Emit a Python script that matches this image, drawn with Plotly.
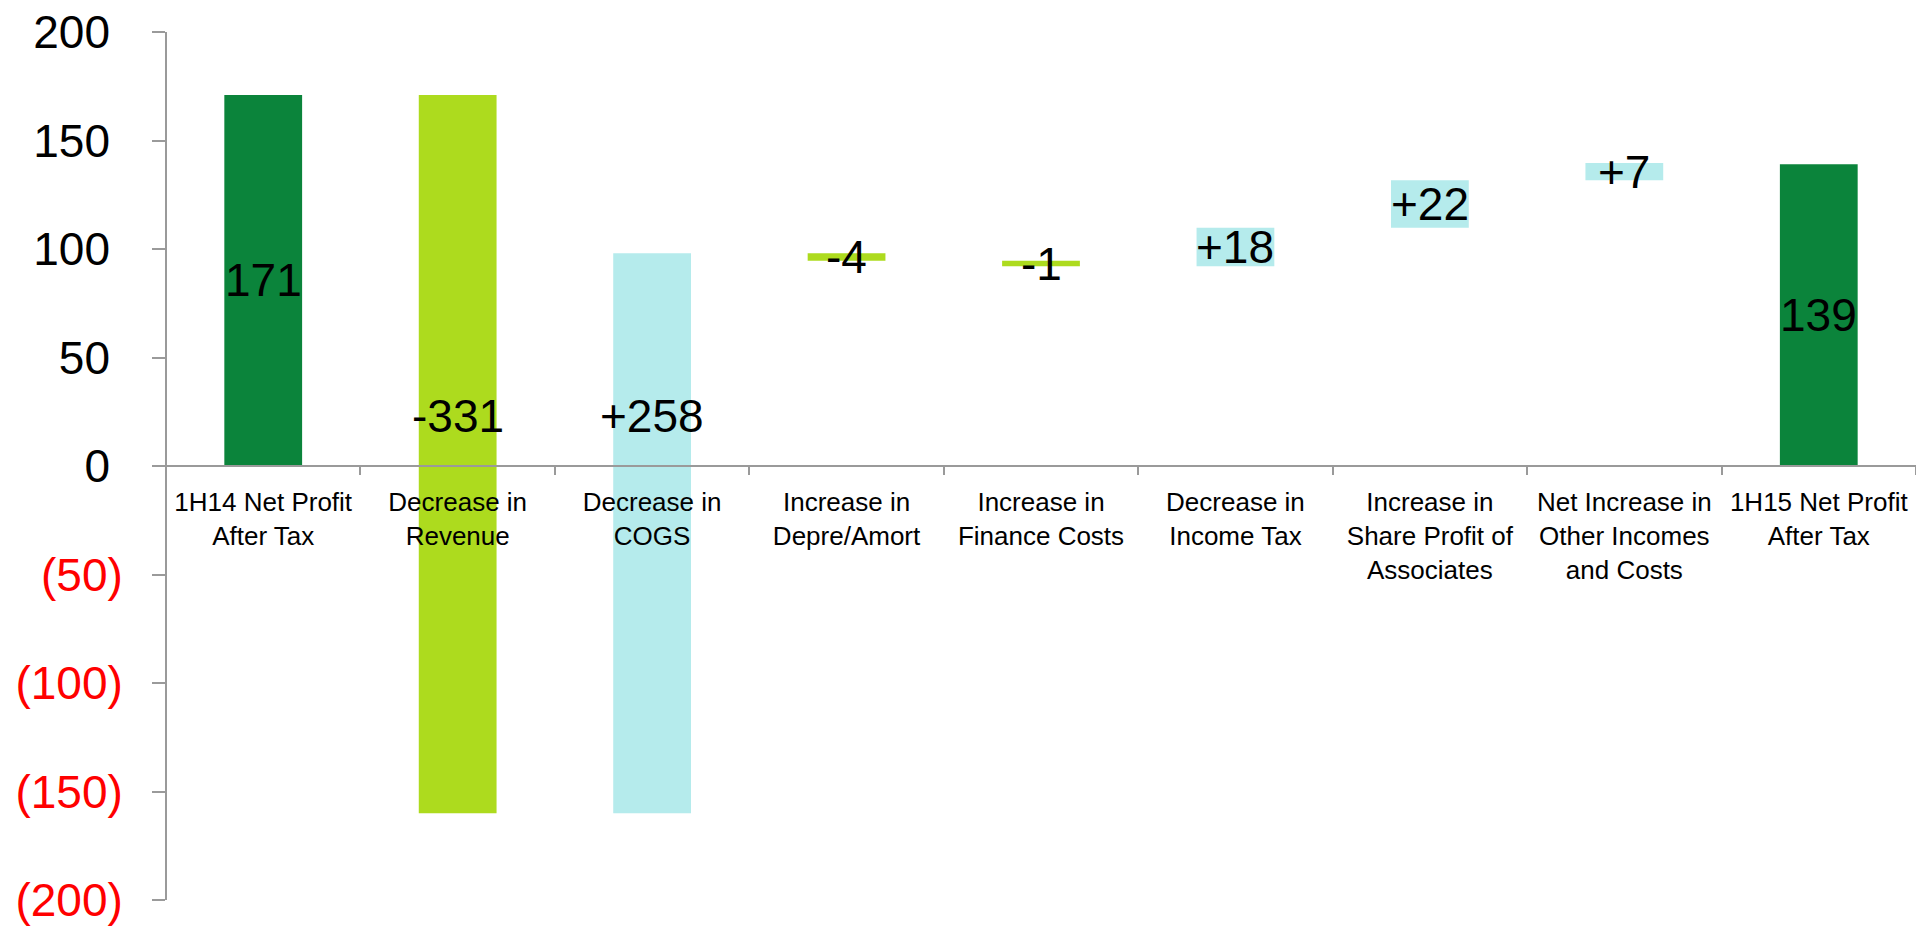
import plotly.graph_objects as go

# ---- data ----
categories = [
    "1H14 Net Profit<br>After Tax",
    "Decrease in<br>Revenue",
    "Decrease in<br>COGS",
    "Increase in<br>Depre/Amort",
    "Increase in<br>Finance Costs",
    "Decrease in<br>Income Tax",
    "Increase in<br>Share Profit of<br>Associates",
    "Net Increase in<br>Other Incomes<br>and Costs",
    "1H15 Net Profit<br>After Tax",
]
start_value = 171
changes = [-331, 258, -3.4, -2.6, 17.8, 21.9, 7.9]
end_value = 139
value_labels = ["171", "-331", "+258", "-4", "-1", "+18", "+22", "+7", "139"]
ytick_vals = [200, 150, 100, 50, 0, -50, -100, -150, -200]

# ---- styles ----
C_TOTAL = "#0B843B"
C_DOWN = "#ADDB1E"
C_UP = "#B5EBEC"
AXIS_C = "#9A9A9A"
FONT = "Liberation Sans, Arial, sans-serif"

# ---- build waterfall geometry from the data ----
bases, heights, colors = [0], [start_value], [C_TOTAL]
level = start_value
for ch in changes:
    bases.append(level)
    heights.append(ch)
    colors.append(C_UP if ch > 0 else C_DOWN)
    level += ch
bases.append(0)
heights.append(end_value)
colors.append(C_TOTAL)

fig = go.Figure()
fig.add_trace(go.Bar(
    x=categories, y=heights, base=bases,
    marker=dict(color=colors, line=dict(width=0)),
    width=0.4, hoverinfo="skip", showlegend=False,
))

annotations = []
for cat, b, h, lab in zip(categories, bases, heights, value_labels):
    lo, hi = min(b, b + h), max(b, b + h)
    if lo < 0 < hi:
        y, shift = 0, 50
    else:
        y, shift = (lo + hi) / 2, 0
    annotations.append(dict(
        x=cat, y=y, xref="x", yref="y", text=lab, showarrow=False,
        yshift=shift, xanchor="center", yanchor="middle",
        font=dict(family=FONT, size=46, color="black"),
    ))

def fmt(v):
    if v < 0:
        return '<span style="color:#FF0000">(%d)</span>' % (-v)
    return "%d\u00a0" % v

ymin, ymax = -200, 200
fig.update_layout(
    width=1916, height=936,
    margin=dict(l=166, r=0, t=32, b=36),
    plot_bgcolor="white", paper_bgcolor="white",
    font=dict(family=FONT, color="black"),
    annotations=annotations,
    xaxis=dict(
        type="category", range=[-0.5, len(categories) - 0.5],
        anchor="free", position=(0 - ymin) / (ymax - ymin),
        showline=True, linecolor=AXIS_C, linewidth=2,
        ticks="outside", tickson="boundaries", ticklen=8, tickcolor=AXIS_C, tickwidth=2,
        tickfont=dict(family=FONT, size=26, color="black"),
        ticklabelstandoff=13,
        showgrid=False, zeroline=False,
    ),
    yaxis=dict(
        range=[ymin, ymax], anchor="free", position=0,
        tickvals=ytick_vals, ticktext=[fmt(v) for v in ytick_vals],
        showline=True, linecolor=AXIS_C, linewidth=2,
        ticks="outside", ticklen=13, tickcolor=AXIS_C, tickwidth=2,
        tickfont=dict(family=FONT, size=46, color="black"),
        ticklabelstandoff=20,
        showgrid=False, zeroline=False,
    ),
)

fig.write_html("out.html", config={"displayModeBar": False},
               post_script="document.body.style.margin='0';")
